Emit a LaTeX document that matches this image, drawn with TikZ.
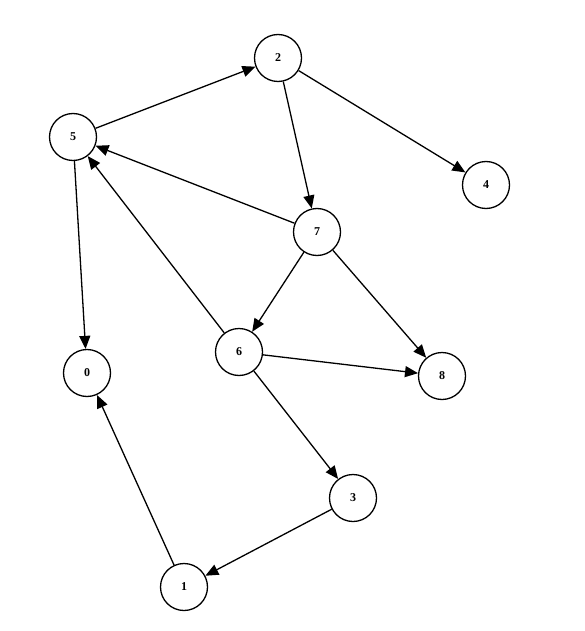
\documentclass[tikz,border=0pt]{standalone}
\usepackage{fontspec}
\setmainfont{Liberation Serif}
\usetikzlibrary{arrows.meta}

\begin{document}
\begin{tikzpicture}[x=1pt, y=-1pt, >={Triangle[length=13pt, width=11pt]}]

% Styles
\tikzset{
  vertex/.style={circle, draw, line width=1.3pt, minimum size=47pt, inner sep=0pt,
    font=\fontsize{12}{14}\selectfont\bfseries},
  edge/.style={line width=1.3pt, ->}
}

% Canvas
\useasboundingbox (0,0) rectangle (584,631);

% Vertices
\node[vertex] (n2) at (278,58)  {2};
\node[vertex] (n5) at (73,137)  {5};
\node[vertex] (n4) at (486,185) {4};
\node[vertex] (n7) at (317,232) {7};
\node[vertex] (n6) at (239,352) {6};
\node[vertex] (n0) at (87,373)  {0};
\node[vertex] (n8) at (442,376) {8};
\node[vertex] (n3) at (353,498) {3};
\node[vertex] (n1) at (184,587) {1};

% Edges
\draw[edge] (n5) -- (n2);
\draw[edge] (n2) -- (n4);
\draw[edge] (n2) -- (n7);
\draw[edge] (n7) -- (n5);
\draw[edge] (n7) -- (n6);
\draw[edge] (n7) -- (n8);
\draw[edge] (n6) -- (n5);
\draw[edge] (n6) -- (n8);
\draw[edge] (n6) -- (n3);
\draw[edge] (n5) -- (n0);
\draw[edge] (n3) -- (n1);
\draw[edge] (n1) -- (n0);

\end{tikzpicture}
\end{document}
